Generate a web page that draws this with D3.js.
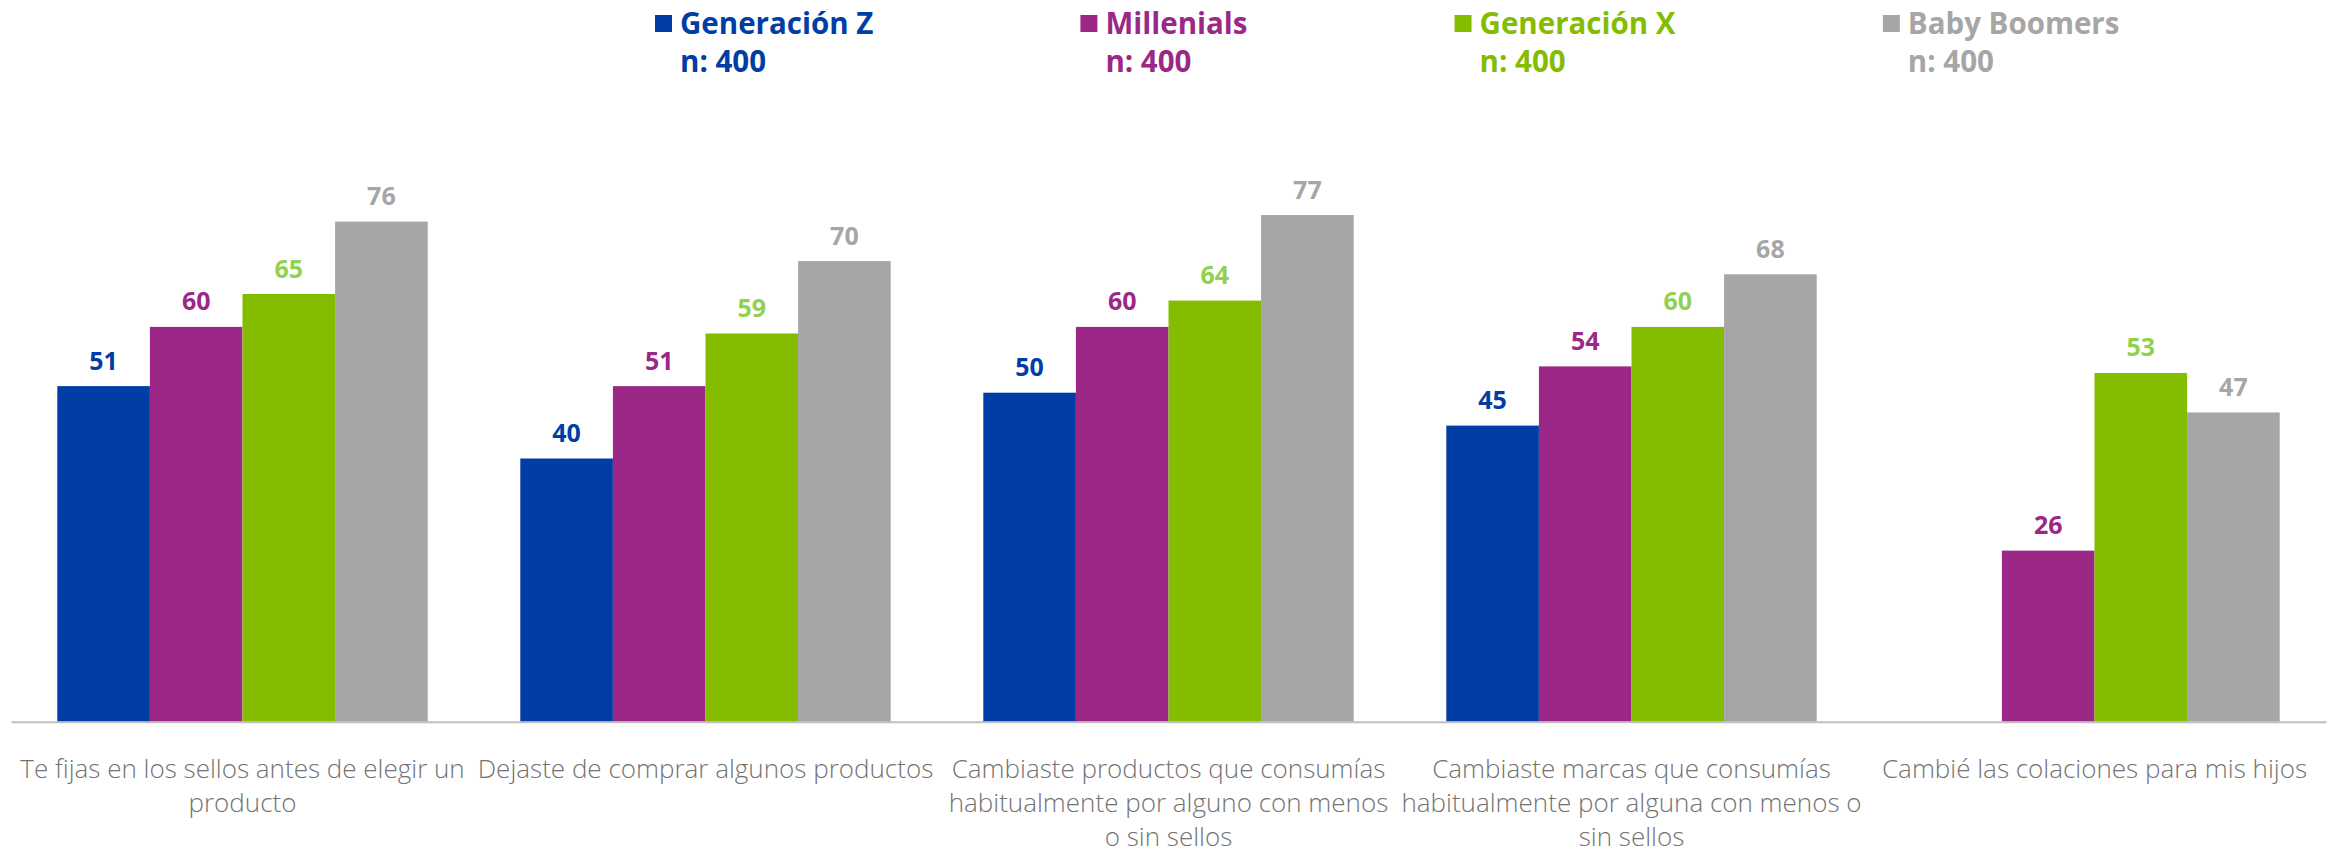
<!DOCTYPE html>
<html lang="es">
<head>
<meta charset="utf-8">
<title>Conducta frente a los sellos por generación</title>
<script src="https://cdn.jsdelivr.net/npm/d3@7"></script>
<style>
  html, body { margin: 0; padding: 0; background: #ffffff; }
  svg { display: block; }
</style>
</head>
<body>
<svg id="chart" width="2338" height="854"></svg>
<script>
// Categories (line breaks as shown under the axis)
const categories = [
  "Te fijas en los sellos antes de elegir un\nproducto",
  "Dejaste de comprar algunos productos",
  "Cambiaste productos que consumías\nhabitualmente por alguno con menos\no sin sellos",
  "Cambiaste marcas que consumías\nhabitualmente por alguna con menos o\nsin sellos",
  "Cambié las colaciones para mis hijos"
];

// Series names and sample sizes
const seriesNames = ["Generación Z", "Millenials", "Generación X", "Baby Boomers"];
const sampleSizes = [400, 400, 400, 400];

// Values per series (%), one per category; null = not asked
const generacionZ = [51, 40, 50, 45, null];
const millenials  = [60, 51, 60, 54, 26];
const generacionX = [65, 59, 64, 60, 53];
const babyBoomers = [76, 70, 77, 68, 47];

const seriesValues = [generacionZ, millenials, generacionX, babyBoomers];
const barColors    = ["#003DA5", "#9B2886", "#84BD00", "#A6A6A6"];
const labelColors  = ["#003DA5", "#9B2886", "#92D050", "#A6A6A6"];
const legendColors = ["#003DA5", "#9B2886", "#84BD00", "#A6A6A6"];

const svg = d3.select("#chart");

const baseY = 721.7;
const x0 = d3.scaleBand()
  .domain(d3.range(categories.length))
  .range([11, 2326])
  .paddingInner(0.2)
  .paddingOuter(0.1);

const x1 = d3.scaleBand()
  .domain(d3.range(seriesNames.length))
  .range([0, x0.bandwidth()])
  .padding(0);

const y = d3.scaleLinear().domain([0, 100]).range([baseY, 63.7]);

// Flatten into bar records
const bars = [];
categories.forEach((c, ci) => {
  seriesValues.forEach((vals, si) => {
    if (vals[ci] != null) bars.push({ ci, si, v: vals[ci] });
  });
});

// Bars
svg.append("g").selectAll("rect")
  .data(bars)
  .join("rect")
  .attr("x", d => x0(d.ci) + x1(d.si))
  .attr("y", d => y(d.v))
  .attr("width", x1.bandwidth())
  .attr("height", d => baseY - y(d.v))
  .attr("fill", d => barColors[d.si]);

// Value labels
svg.append("g").selectAll("text")
  .data(bars)
  .join("text")
  .attr("x", d => x0(d.ci) + x1(d.si) + x1.bandwidth() / 2)
  .attr("y", d => y(d.v) - 16.5)
  .attr("text-anchor", "middle")
  .attr("font-family", "'Open Sans', 'Noto Sans', sans-serif")
  .attr("font-weight", 700)
  .attr("font-size", 25)
  .attr("fill", d => labelColors[d.si])
  .text(d => d.v);

// Category axis
const axis = svg.append("g")
  .attr("transform", `translate(0,${baseY})`)
  .call(d3.axisBottom(x0).tickSize(0).tickSizeOuter(0).tickFormat(i => categories[i]));

axis.select(".domain")
  .attr("stroke", "#BFBFBF")
  .attr("stroke-width", 2);

axis.selectAll(".tick text").each(function(i) {
  const t = d3.select(this);
  const lines = categories[i].split("\n");
  t.text(null)
    .attr("y", 0)
    .attr("dy", null)
    .attr("font-family", "'Open Sans', 'Noto Sans', sans-serif")
    .attr("font-weight", 300)
    .attr("font-size", 26)
    .attr("fill", "#737373");
  lines.forEach((line, k) => {
    t.append("tspan")
      .attr("x", 0)
      .attr("y", 56.5 + k * 34)
      .text(line);
  });
});

// Legend
const legend = svg.append("g");
let lx = 655;
seriesNames.forEach((name, i) => {
  const g = legend.append("g").attr("transform", `translate(${lx},0)`);
  g.append("rect")
    .attr("x", 0).attr("y", 15)
    .attr("width", 17).attr("height", 17)
    .attr("fill", legendColors[i]);
  const txt = g.append("text")
    .attr("font-family", "'Open Sans', 'Noto Sans', sans-serif")
    .attr("font-weight", 700)
    .attr("font-size", 29.5)
    .attr("fill", legendColors[i]);
  txt.append("tspan").attr("x", 25).attr("y", 34).text(name);
  txt.append("tspan").attr("x", 25).attr("y", 72).text("n: " + sampleSizes[i]);
  const w = txt.node().getBBox().width;
  lx += 25 + w + 207;
});
</script>
</body>
</html>
